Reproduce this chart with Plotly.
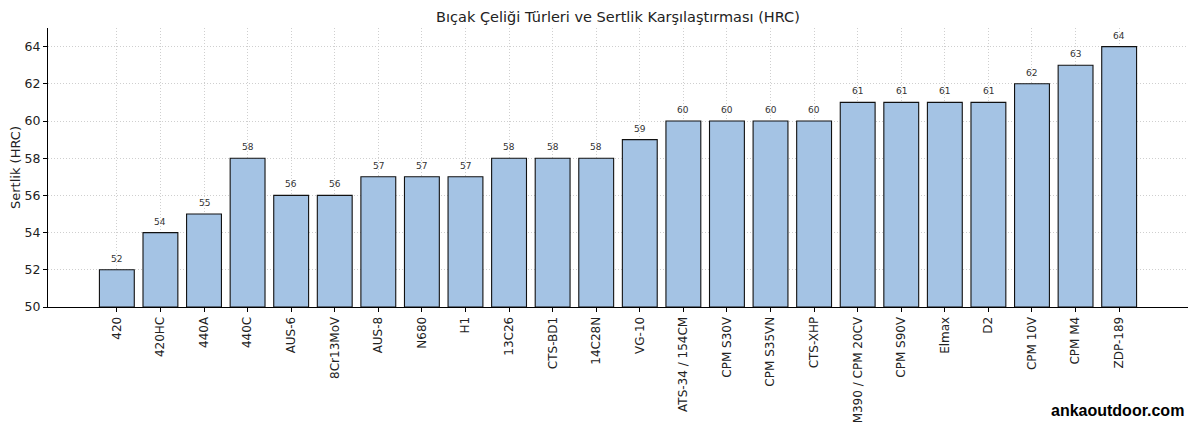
import plotly.graph_objects as go

steels = ["420", "420HC", "440A", "440C", "AUS-6", "8Cr13MoV", "AUS-8", "N680", "H1",
          "13C26", "CTS-BD1", "14C28N", "VG-10", "ATS-34 / 154CM", "CPM S30V", "CPM S35VN",
          "CTS-XHP", "M390 / CPM 20CV", "CPM S90V", "Elmax", "D2", "CPM 10V", "CPM M4", "ZDP-189"]
hrc = [52, 54, 55, 58, 56, 56, 57, 57, 57, 58, 58, 58, 59, 60, 60, 60, 60, 61, 61, 61, 61, 62, 63, 64]
y_ticks = [50, 52, 54, 56, 58, 60, 62, 64]

# page body has an 8px margin, so the figure is sized to fit the window
W, H = 1192, 418
n = len(steels)
xs = list(range(n))
fig = go.Figure(go.Bar(
    x=xs, y=[v - 50 for v in hrc], base=50,
    width=0.8,
    marker=dict(color="#a4c3e4", line=dict(color="#111111", width=1.1)),
))
for xi, v in zip(xs, hrc):
    fig.add_annotation(x=xi, y=v, text=str(v), showarrow=False, yanchor="bottom", yshift=4,
                       font=dict(size=9, color="#333333", family="DejaVu Sans"))

fig.update_layout(
    width=W, height=H,
    margin=dict(l=40, r=12, t=20, b=119, autoexpand=False),
    plot_bgcolor="white", paper_bgcolor="white",
    font=dict(family="DejaVu Sans", color="#222222"),
    title=dict(text="Bıçak Çeliği Türleri ve Sertlik Karşılaştırması (HRC)",
               xref="paper", x=0.5, xanchor="center",
               yref="container", y=1 - 9 / H, yanchor="middle",
               font=dict(size=14.5, color="#222222"), automargin=False),
    showlegend=False,
)
grid = dict(showgrid=True, gridcolor="#cfcfcf", griddash="1px,2px", gridwidth=1, zeroline=False)
fig.update_xaxes(
    range=[-1.58, n - 1 + 1.58], automargin=False,
    tickmode="array", tickvals=xs, ticktext=steels,
    tickangle=-90, tickfont=dict(size=12, color="#222222"),
    showline=True, linecolor="black", linewidth=1,
    ticks="outside", ticklen=4, tickcolor="black",
    **grid,
)
fig.update_yaxes(
    range=[50, 65], automargin=False,
    tickmode="array", tickvals=y_ticks, ticktext=[str(t) for t in y_ticks],
    tickfont=dict(size=12.5, color="#222222"),
    showline=True, linecolor="black", linewidth=1,
    ticks="outside", ticklen=4, tickcolor="black",
    **grid,
    title=dict(text="Sertlik (HRC)", font=dict(size=13, color="#222222"), standoff=1),
)
fig.add_annotation(
    text="<b>ankaoutdoor.com</b>", xref="paper", yref="paper",
    x=1.0, xanchor="right", y=0, yanchor="top",
    yshift=-93, xshift=-2, showarrow=False,
    font=dict(family="Liberation Sans", size=16, color="black"),
)
fig.write_html("out.html")
